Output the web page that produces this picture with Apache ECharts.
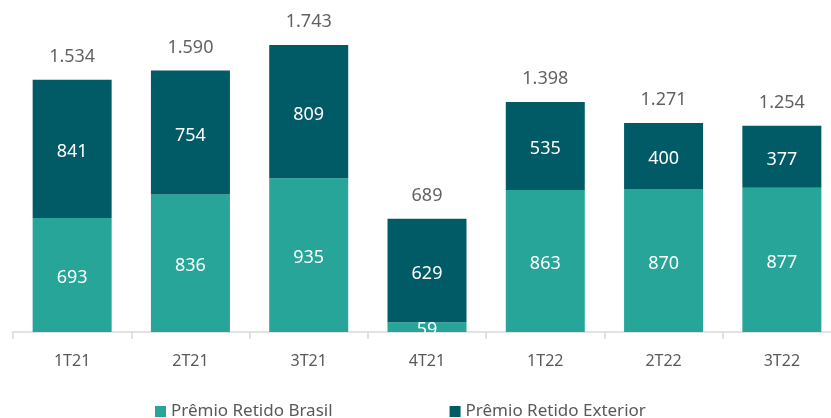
<!DOCTYPE html>
<html>
<head>
    <meta charset="utf-8"/>
    <title>Prêmio Retido</title>
    <script src="https://cdn.jsdelivr.net/npm/echarts@6/dist/echarts.min.js"></script>
    <style>
        body { margin: 0; background: #fff; }
    </style>
</head>
<body>
<div id="main" style="width: 831px;height:418px;"></div>

<script type="text/javascript">
    var categories = ['1T21', '2T21', '3T21', '4T21', '1T22', '2T22', '3T22'];
    var brasil = [693, 836, 935, 59, 863, 870, 877];
    var exterior = [841, 754, 809, 629, 535, 400, 377];
    var totals = [1534, 1590, 1743, 689, 1398, 1271, 1254];

    function fmt(v) {
        return String(v).replace(/\B(?=(\d{3})+(?!\d))/g, '.');
    }

    var myChart = echarts.init(document.getElementById('main'));

    var font = '"Noto Sans", "Open Sans", sans-serif';

    var option = {
        animation: false,
        textStyle: { fontFamily: font },
        legend: {
            bottom: -7,
            left: 150,
            itemGap: 117,
            itemWidth: 11,
            itemHeight: 11,
            icon: 'rect',
            data: ['Prêmio Retido Brasil', 'Prêmio Retido Exterior'],
            textStyle: { color: '#595959', fontSize: 17, fontFamily: font }
        },
        grid: {
            left: 13,
            top: 3,
            width: 828,
            bottom: 86,
            containLabel: false,
            outerBoundsMode: 'none'
        },
        xAxis: {
            type: 'category',
            data: categories,
            axisLine: { lineStyle: { color: '#d9d9d9', width: 1.5 } },
            axisTick: { show: true, length: 7, lineStyle: { color: '#d9d9d9', width: 1.5 } },
            axisLabel: { color: '#595959', fontSize: 16, margin: 21, fontFamily: font }
        },
        yAxis: {
            type: 'value',
            min: 0,
            max: 2000,
            show: false,
            splitLine: { show: false }
        },
        series: [
            {
                name: 'Prêmio Retido Brasil',
                type: 'bar',
                stack: 'total',
                barWidth: 79,
                data: brasil,
                itemStyle: { color: '#27a599' },
                label: {
                    show: true,
                    position: 'inside',
                    offset: [0, 3],
                    color: '#ffffff',
                    fontSize: 18,
                    fontFamily: font,
                    formatter: function (p) { return fmt(p.value); }
                }
            },
            {
                name: 'Prêmio Retido Exterior',
                type: 'bar',
                stack: 'total',
                barWidth: 79,
                data: exterior,
                itemStyle: { color: '#005b66' },
                label: {
                    show: true,
                    position: 'inside',
                    offset: [0, 3],
                    color: '#ffffff',
                    fontSize: 18,
                    fontFamily: font,
                    formatter: function (p) { return fmt(p.value); }
                }
            },
            {
                name: 'Total',
                type: 'scatter',
                data: totals,
                symbolSize: 0,
                silent: true,
                label: {
                    show: true,
                    position: 'top',
                    distance: 14,
                    color: '#3a3a3a',
                    fontSize: 18,
                    fontFamily: font,
                    formatter: function (p) { return fmt(p.value); }
                }
            }
        ]
    };

    myChart.setOption(option);
</script>
</body>
</html>
